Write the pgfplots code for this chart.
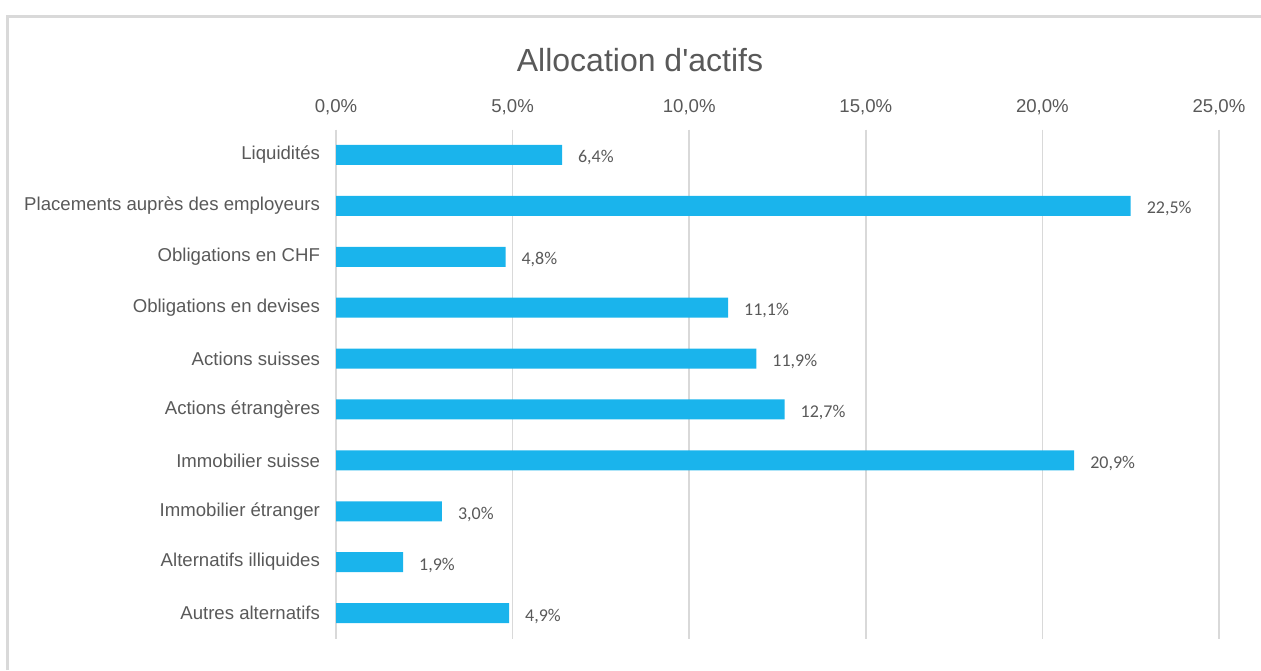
\documentclass[border=0pt]{standalone}
\usepackage{fontspec}
\setmainfont{Liberation Sans}
\newfontfamily\carlito{Carlito}
\usepackage{pgfplots}
\pgfplotsset{compat=1.18}
\definecolor{barc}{HTML}{1AB4EC}
\definecolor{txt}{HTML}{595959}
\definecolor{gridc}{HTML}{D9D9D9}
\begin{document}
\begin{tikzpicture}
\path[use as bounding box] (0pt,0pt) rectangle (630.5pt,-335pt);
\draw[gridc,line width=1.2pt] (3.75pt,-335pt) -- (3.75pt,-8.25pt) -- (630.5pt,-8.25pt);
\node[txt,font=\fontsize{16}{18}\selectfont] at (320pt,-30pt) {Allocation d\textquotesingle actifs};
\begin{axis}[
  at={(168pt,-64.75pt)}, anchor=north west,
  scale only axis, width=441.5pt, height=254.5pt,
  xmin=0, xmax=25, ymin=-0.5, ymax=9.5,
  y dir=reverse,
  axis line style={draw=none},
  xtick={0,5,...,25},
  xticklabel pos=upper,
  xticklabel={\pgfmathprintnumber[fixed,fixed zerofill,precision=1,use comma]{\tick}\%},
  /pgf/number format/assume math mode=true,
  xmajorgrids, major grid style={gridc,line width=0.8pt},
  major tick length=0pt,
  ytick={0,...,9},
  yticklabels={Liquidités,Placements auprès des employeurs,Obligations en CHF,Obligations en devises,Actions suisses,Actions étrangères,Immobilier suisse,Immobilier étranger,Alternatifs illiquides,Autres alternatifs},
  tick label style={txt,font=\fontsize{9.3}{11}\selectfont},
  xticklabel style={yshift=4pt},
  yticklabel style={xshift=-4.5pt},
  clip=false,
]
\addplot[xbar, bar width=10pt, fill=barc, draw=none,
  nodes near coords={\pgfmathprintnumber[fixed,fixed zerofill,precision=1,use comma]{\pgfplotspointmeta}\%},
  nodes near coords style={txt,font=\carlito\fontsize{9}{11}\selectfont,anchor=west,xshift=4.5pt,yshift=-1.5pt},
  point meta=x]
coordinates {(6.4,0) (22.5,1) (4.8,2) (11.1,3) (11.9,4) (12.7,5) (20.9,6) (3.0,7) (1.9,8) (4.9,9)};
\end{axis}
\end{tikzpicture}
\end{document}
